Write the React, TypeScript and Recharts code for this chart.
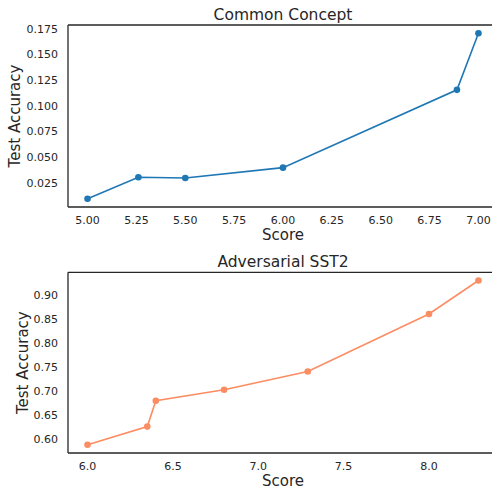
import { LineChart, Line, XAxis, YAxis } from "recharts";

// Common Concept
const conceptScore = [5.0, 5.26, 5.5, 6.0, 6.89, 7.0];
const conceptAcc = [0.0095, 0.0305, 0.0297, 0.0398, 0.1155, 0.1705];
const conceptXTicks = [5.0, 5.25, 5.5, 5.75, 6.0, 6.25, 6.5, 6.75, 7.0];
const conceptYTicks = [0.025, 0.05, 0.075, 0.1, 0.125, 0.15, 0.175];

// Adversarial SST2
const sstScore = [6.0, 6.35, 6.4, 6.8, 7.29, 8.0, 8.29];
const sstAcc = [0.588, 0.626, 0.68, 0.703, 0.741, 0.861, 0.931];
const sstXTicks = [6.0, 6.5, 7.0, 7.5, 8.0];
const sstYTicks = [0.6, 0.65, 0.7, 0.75, 0.8, 0.85, 0.9];

const conceptData = conceptScore.map((s, i) => ({ score: s, acc: conceptAcc[i] }));
const sstData = sstScore.map((s, i) => ({ score: s, acc: sstAcc[i] }));

const INK = "#262626";
const FONT = "DejaVu Sans";
const tickStyle = { fill: INK, fontSize: 11, fontFamily: FONT };
const labelStyle = { fill: INK, fontSize: 15, fontFamily: FONT };

interface PanelProps {
  title: string;
  data: { score: number; acc: number }[];
  color: string;
  xDomain: [number, number];
  yDomain: [number, number];
  xTicks: number[];
  yTicks: number[];
  xDigits: number;
  yDigits: number;
  height: number;
  topH: number;
  ylabelX: number;
}

function Panel(p: PanelProps) {
  return (
    <LineChart
      width={520}
      height={p.height}
      data={p.data}
      margin={{ top: 0, right: 22, bottom: 0, left: 0 }}
    >
      <XAxis
        xAxisId="top"
        orientation="top"
        type="number"
        dataKey="score"
        domain={p.xDomain}
        allowDataOverflow
        height={p.topH}
        tick={false}
        tickLine={false}
        axisLine={{ stroke: INK, strokeWidth: 1.3 }}
        label={{ value: p.title, position: "insideBottom", offset: 5, style: { ...labelStyle, fontSize: 15.5 } }}
      />
      <XAxis
        type="number"
        dataKey="score"
        domain={p.xDomain}
        allowDataOverflow
        ticks={p.xTicks}
        tickFormatter={(v: number) => v.toFixed(p.xDigits)}
        height={38}
        tick={tickStyle}
        tickLine={false}
        tickSize={0}
        tickMargin={9}
        interval={0}
        axisLine={{ stroke: INK, strokeWidth: 1.3 }}
        label={{ value: "Score", position: "insideBottom", offset: 5, style: labelStyle }}
      />
      <YAxis
        type="number"
        dataKey="acc"
        domain={p.yDomain}
        allowDataOverflow
        ticks={p.yTicks}
        tickFormatter={(v: number) => v.toFixed(p.yDigits)}
        width={68}
        tick={tickStyle}
        tickLine={false}
        tickSize={0}
        tickMargin={10}
        interval={0}
        axisLine={{ stroke: INK, strokeWidth: 1.3 }}
        label={{
          value: "Test Accuracy",
          angle: -90,
          position: "insideLeft",
          offset: p.ylabelX,
          style: { ...labelStyle, textAnchor: "middle" },
        }}
      />
      <Line
        type="linear"
        dataKey="acc"
        stroke={p.color}
        strokeWidth={1.6}
        dot={{ r: 3.3, fill: p.color, stroke: "none" }}
        activeDot={false}
        isAnimationActive={false}
      />
    </LineChart>
  );
}

export default function App() {
  return (
    <div
      style={{
        position: "fixed",
        left: 0,
        top: 0,
        width: 492,
        height: 491,
        overflow: "hidden",
        background: "#ffffff",
      }}
    >
      <div style={{ position: "absolute", left: 0, top: 0 }}>
        <Panel
          title="Common Concept"
          data={conceptData}
          color="#1f77b4"
          xDomain={[4.9, 7.1]}
          yDomain={[0.0015, 0.1786]}
          xTicks={conceptXTicks}
          yTicks={conceptYTicks}
          xDigits={2}
          yDigits={3}
          height={245}
          topH={25}
          ylabelX={15}
        />
      </div>
      <div style={{ position: "absolute", left: 0, top: 245 }}>
        <Panel
          title="Adversarial SST2"
          data={sstData}
          color="#fc8d62"
          xDomain={[5.8855, 8.4045]}
          yDomain={[0.5709, 0.9481]}
          xTicks={sstXTicks}
          yTicks={sstYTicks}
          xDigits={1}
          yDigits={2}
          height={246}
          topH={27.3}
          ylabelX={23}
        />
      </div>
    </div>
  );
}
